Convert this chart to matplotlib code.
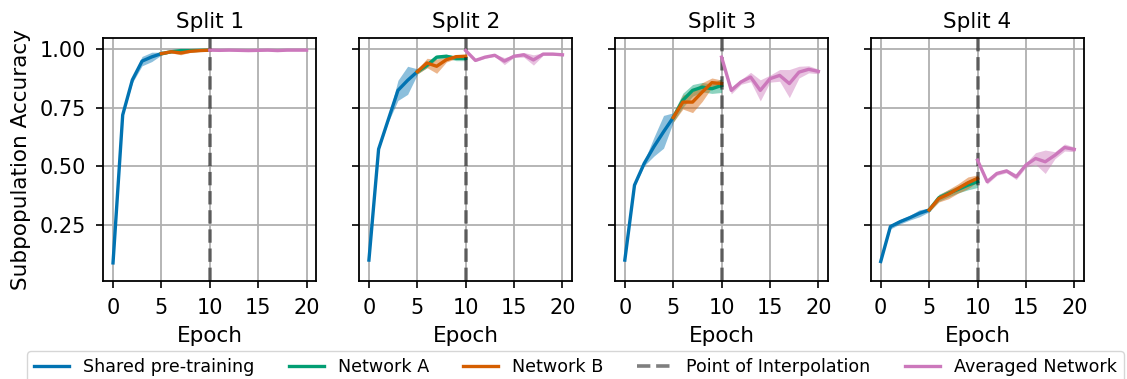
import numpy as np
import matplotlib
matplotlib.use("Agg")
import matplotlib.pyplot as plt

# ---- data -------------------------------------------------------------
splits = ["Split 1", "Split 2", "Split 3", "Split 4"]
epochs_pre = [0, 1, 2, 3, 4, 5]
epochs_post = [5, 6, 7, 8, 9, 10]
epochs_avg = [10, 11, 12, 13, 14, 15, 16, 17, 18, 19, 20]
interp_epoch = 10

shared_mean = [
    [0.088, 0.720, 0.870, 0.950, 0.968, 0.982],
    [0.100, 0.574, 0.700, 0.825, 0.868, 0.905],
    [0.100, 0.420, 0.513, 0.584, 0.648, 0.709],
    [0.094, 0.243, 0.264, 0.281, 0.300, 0.314],
]
shared_sd = [
    [0.0, 0.005, 0.012, 0.020, 0.020, 0.006],
    [0.0, 0.004, 0.010, 0.043, 0.060, 0.012],
    [0.0, 0.005, 0.010, 0.040, 0.070, 0.020],
    [0.0, 0.010, 0.010, 0.010, 0.015, 0.008],
]
net_a_mean = [
    [0.982, 0.990, 0.995, 0.995, 0.996, 0.997],
    [0.905, 0.932, 0.967, 0.971, 0.962, 0.962],
    [0.709, 0.783, 0.825, 0.839, 0.832, 0.846],
    [0.314, 0.366, 0.385, 0.402, 0.420, 0.435],
]
net_a_sd = [
    [0.006, 0.004, 0.003, 0.003, 0.002, 0.002],
    [0.010, 0.010, 0.008, 0.008, 0.010, 0.010],
    [0.020, 0.030, 0.025, 0.020, 0.020, 0.030],
    [0.008, 0.015, 0.015, 0.015, 0.020, 0.025],
]
net_b_mean = [
    [0.982, 0.990, 0.985, 0.992, 0.995, 0.997],
    [0.905, 0.942, 0.928, 0.956, 0.969, 0.971],
    [0.709, 0.775, 0.775, 0.818, 0.858, 0.854],
    [0.314, 0.363, 0.382, 0.406, 0.430, 0.449],
]
net_b_sd = [
    [0.006, 0.005, 0.008, 0.004, 0.003, 0.002],
    [0.010, 0.020, 0.030, 0.010, 0.008, 0.006],
    [0.020, 0.030, 0.045, 0.040, 0.020, 0.015],
    [0.008, 0.015, 0.020, 0.020, 0.025, 0.015],
]
avg_mean = [
    [0.997, 0.996, 0.997, 0.996, 0.995, 0.996, 0.997, 0.995, 0.997, 0.997, 0.997],
    [0.995, 0.953, 0.967, 0.975, 0.950, 0.971, 0.977, 0.955, 0.980, 0.980, 0.977],
    [0.967, 0.825, 0.861, 0.882, 0.825, 0.875, 0.889, 0.854, 0.903, 0.915, 0.906],
    [0.527, 0.435, 0.470, 0.481, 0.456, 0.506, 0.534, 0.520, 0.548, 0.581, 0.573],
]
avg_sd = [
    [0.003, 0.003, 0.003, 0.003, 0.003, 0.003, 0.003, 0.003, 0.003, 0.003, 0.003],
    [0.003, 0.005, 0.005, 0.005, 0.015, 0.005, 0.010, 0.022, 0.005, 0.005, 0.004],
    [0.005, 0.015, 0.010, 0.020, 0.045, 0.015, 0.025, 0.060, 0.025, 0.015, 0.010],
    [0.005, 0.010, 0.008, 0.008, 0.012, 0.010, 0.025, 0.050, 0.015, 0.015, 0.010],
]

colors = {
    "shared": "#0173b2",
    "a": "#029e73",
    "b": "#d55e00",
    "avg": "#cc78bc",
}

# ---- figure -------------------------------------------------------------
plt.rcParams["font.family"] = ["DejaVu Sans"]
fig, axes = plt.subplots(1, 4, figsize=(11.27, 3.79), dpi=100, sharey=True)
fig.subplots_adjust(left=0.0917, right=0.9618, bottom=0.2594, top=0.9005,
                    wspace=0.202)

lw = 2.4
band_alpha = 0.45
fs = 15.5


def band(ax, x, m, s, c):
    m = np.asarray(m)
    s = np.asarray(s)
    ax.fill_between(x, m - s, m + s, color=c, alpha=band_alpha, lw=0)
    return ax.plot(x, m, color=c, lw=lw)[0]


handles = None
for i, ax in enumerate(axes):
    h1 = band(ax, epochs_pre, shared_mean[i], shared_sd[i], colors["shared"])
    h2 = band(ax, epochs_post, net_a_mean[i], net_a_sd[i], colors["a"])
    h3 = band(ax, epochs_post, net_b_mean[i], net_b_sd[i], colors["b"])
    h4 = ax.axvline(interp_epoch, color="k", alpha=0.5, ls="--", lw=2.6)
    h5 = band(ax, epochs_avg, avg_mean[i], avg_sd[i], colors["avg"])
    if handles is None:
        handles = [h1, h2, h3, h4, h5]

    ax.set_title(splits[i], fontsize=fs, pad=7)
    ax.set_xlabel("Epoch", fontsize=fs, labelpad=6)
    ax.set_xlim(-1, 21)
    ax.set_ylim(0.012, 1.05)
    ax.set_xticks([0, 5, 10, 15, 20])
    ax.set_yticks([0.25, 0.50, 0.75, 1.00])
    ax.tick_params(labelsize=15, length=5, width=1.2, pad=7.5)
    ax.grid(True, color="#b0b0b0", lw=1.3)
    ax.set_axisbelow(True)
    for sp in ax.spines.values():
        sp.set_linewidth(1.3)

axes[0].set_ylabel("Subpopulation Accuracy", fontsize=fs, labelpad=6)

labels = ["Shared pre-training", "Network A", "Network B",
          "Point of Interpolation", "Averaged Network"]
fig.legend(handles, labels, loc="upper left", ncol=5, fontsize=12.6,
           columnspacing=1.95,
           bbox_to_anchor=(27 / 1127, 1 - 351 / 379),
           bbox_transform=fig.transFigure, borderaxespad=0)

fig.savefig("out.png", dpi=100)
